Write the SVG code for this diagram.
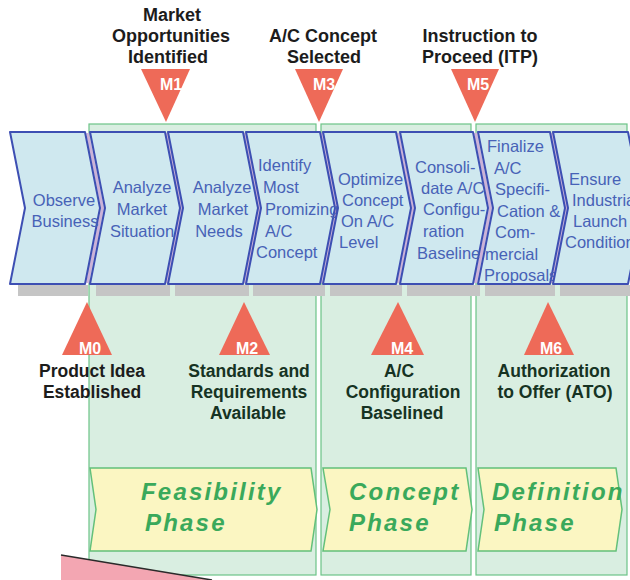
<svg xmlns="http://www.w3.org/2000/svg" width="630" height="580" viewBox="0 0 630 580">
<style>
.panel{fill:#d9eee1;stroke:#6cc487;stroke-width:1.2}
.shadow{fill:#c5c5c5}
.stripe{fill:none;stroke:#cdb2d8;stroke-width:3}
.chev{fill:#cfe8ef;stroke:#3d4fb3;stroke-width:2;stroke-linejoin:round}
.ct{font-family:"Liberation Sans",Arial,sans-serif;font-size:16.5px;fill:#4762b7}
.tri{fill:#ee6a58}
.mt{font-family:"Liberation Sans",Arial,sans-serif;font-size:16px;font-weight:bold;fill:#ffffff;text-anchor:middle}
.lbl{font-family:"Liberation Sans",Arial,sans-serif;font-size:18px;font-weight:bold;fill:#1c1c1c;text-anchor:middle}
.lblg{font-family:"Liberation Sans",Arial,sans-serif;font-size:17.5px;font-weight:bold;fill:#163323;text-anchor:middle}
.phase{fill:#fbf6c2;stroke:#63c07a;stroke-width:1.5}
.pt{font-family:"Liberation Sans",Arial,sans-serif;font-size:24px;font-weight:bold;font-style:italic;fill:#3aa95b;letter-spacing:2.2px}
</style>
<rect width="630" height="580" fill="#ffffff"/>
<g id="panels">
<rect class="panel" x="89" y="124" width="227" height="451"/>
<rect class="panel" x="321" y="124" width="150" height="451"/>
<rect class="panel" x="476" y="124" width="151" height="451"/>
</g>
<g id="pink-shape">
<polygon points="61,555 212,580 61,580" fill="#f3a6b2"/>
<line x1="61" y1="555" x2="212" y2="580" stroke="#2a2a2a" stroke-width="1.5"/>
</g>
<g id="shadows">
<rect class="shadow" x="18" y="285" width="70" height="11"/>
<rect class="shadow" x="96" y="285" width="74" height="11"/>
<rect class="shadow" x="175" y="285" width="74" height="11"/>
<rect class="shadow" x="253" y="285" width="72" height="11"/>
<rect class="shadow" x="330" y="285" width="72" height="11"/>
<rect class="shadow" x="407" y="285" width="73" height="11"/>
<rect class="shadow" x="485" y="285" width="70" height="11"/>
<rect class="shadow" x="560" y="285" width="70" height="11"/>
</g>
<g id="stripes">
<polyline class="stripe" points="87.5,133 102.5,208 87.5,283"/>
<polyline class="stripe" points="166.5,133 181.5,208 166.5,283"/>
<polyline class="stripe" points="244.5,133 259.5,208 244.5,283"/>
<polyline class="stripe" points="321.5,133 336.5,208 321.5,283"/>
<polyline class="stripe" points="398,133 413,208 398,283"/>
<polyline class="stripe" points="475.5,133 490.5,208 475.5,283"/>
<polyline class="stripe" points="551.5,133 566.5,208 551.5,283"/>
</g>
<g id="step-observe">
<path class="chev" d="M10,132 L85,132 L100,208 L85,284 L10,284 L25,208 Z"/>
<text class="ct" x="64" y="206" text-anchor="middle">Observe</text>
<text class="ct" x="65" y="227" text-anchor="middle">Business</text>
</g>
<g id="step-analyze-situation">
<path class="chev" d="M90,132 L165,132 L180,208 L165,284 L90,284 L105,208 Z"/>
<text class="ct" x="142" y="193" text-anchor="middle">Analyze</text>
<text class="ct" x="142" y="215" text-anchor="middle">Market</text>
<text class="ct" x="142" y="237" text-anchor="middle">Situation</text>
</g>
<g id="step-analyze-needs">
<path class="chev" d="M168,132 L243,132 L258,208 L243,284 L168,284 L183,208 Z"/>
<text class="ct" x="222" y="193" text-anchor="middle">Analyze</text>
<text class="ct" x="223" y="215" text-anchor="middle">Market</text>
<text class="ct" x="219" y="237" text-anchor="middle">Needs</text>
</g>
<g id="step-identify">
<path class="chev" d="M246,132 L320,132 L335,208 L320,284 L246,284 L261,208 Z"/>
<text class="ct" x="258" y="171">Identify</text>
<text class="ct" x="263" y="193">Most</text>
<text class="ct" x="265" y="215">Promizing</text>
<text class="ct" x="265" y="237">A/C</text>
<text class="ct" x="256" y="258">Concept</text>
</g>
<g id="step-optimize">
<path class="chev" d="M323,132 L396,132 L411,208 L396,284 L323,284 L338,208 Z"/>
<text class="ct" x="338" y="185">Optimize</text>
<text class="ct" x="342" y="206">Concept</text>
<text class="ct" x="341" y="227">On A/C</text>
<text class="ct" x="339" y="248">Level</text>
</g>
<g id="step-consolidate">
<path class="chev" d="M400,132 L473,132 L488,208 L473,284 L400,284 L415,208 Z"/>
<text class="ct" x="415" y="173">Consoli-</text>
<text class="ct" x="421" y="194">date A/C</text>
<text class="ct" x="423" y="215">Configu-</text>
<text class="ct" x="423" y="237">ration</text>
<text class="ct" x="417" y="259">Baseline</text>
</g>
<g id="step-finalize">
<path class="chev" d="M478,132 L550,132 L565,208 L550,284 L478,284 L493,208 Z"/>
<text class="ct" x="487" y="152">Finalize</text>
<text class="ct" x="494" y="173.5">A/C</text>
<text class="ct" x="495" y="195">Specifi-</text>
<text class="ct" x="497" y="216.5">Cation &amp;</text>
<text class="ct" x="495" y="238">Com-</text>
<text class="ct" x="485" y="259.5">mercial</text>
<text class="ct" x="484" y="281">Proposals</text>
</g>
<g id="step-ensure">
<path class="chev" d="M553,132 L628,132 L643,208 L628,284 L553,284 L568,208 Z"/>
<text class="ct" x="569" y="185">Ensure</text>
<text class="ct" x="572" y="206">Industrial</text>
<text class="ct" x="573" y="227">Launch</text>
<text class="ct" x="565" y="248">Conditions</text>
</g>
<g id="milestone-M1">
<polygon class="tri" points="141,69 190,69 166,122"/>
<text class="mt" x="171" y="90">M1</text>
<text class="lbl" x="172" y="21">Market</text>
<text class="lbl" x="171" y="42">Opportunities</text>
<text class="lbl" x="168" y="63">Identified</text>
</g>
<g id="milestone-M3">
<polygon class="tri" points="295,69 343,69 319,122"/>
<text class="mt" x="324" y="90">M3</text>
<text class="lbl" x="323" y="42">A/C Concept</text>
<text class="lbl" x="324" y="63">Selected</text>
</g>
<g id="milestone-M5">
<polygon class="tri" points="451,69 499,69 475,122"/>
<text class="mt" x="478" y="90">M5</text>
<text class="lbl" x="480" y="42">Instruction to</text>
<text class="lbl" x="480" y="63">Proceed (ITP)</text>
</g>
<g id="milestone-M0">
<polygon class="tri" points="87,302 62,355 112,355"/>
<text class="mt" x="90" y="354">M0</text>
<text class="lbl" x="92" y="377" style="font-size:17.5px">Product Idea</text>
<text class="lbl" x="92" y="398" style="font-size:17.5px">Established</text>
</g>
<g id="milestone-M2">
<polygon class="tri" points="244,302 219,355 270,355"/>
<text class="mt" x="247" y="354">M2</text>
<text class="lblg" x="249" y="377">Standards and</text>
<text class="lblg" x="249" y="398">Requirements</text>
<text class="lblg" x="248" y="419">Available</text>
</g>
<g id="milestone-M4">
<polygon class="tri" points="398,302 371,355 424,355"/>
<text class="mt" x="402" y="354">M4</text>
<text class="lblg" x="399" y="377">A/C</text>
<text class="lblg" x="403" y="398">Configuration</text>
<text class="lblg" x="402" y="419">Baselined</text>
</g>
<g id="milestone-M6">
<polygon class="tri" points="548,302 524,355 574,355"/>
<text class="mt" x="551" y="354">M6</text>
<text class="lblg" x="554" y="377">Authorization</text>
<text class="lblg" x="555" y="398">to Offer (ATO)</text>
</g>
<g id="phase-feasibility">
<path class="phase" d="M90,468 L311,468 L317,509.5 L311,551 L90,551 L96,509.5 Z"/>
<text class="pt" x="141" y="500">Feasibility</text>
<text class="pt" x="145" y="531">Phase</text>
</g>
<g id="phase-concept">
<path class="phase" d="M323,468 L466,468 L472,509.5 L466,551 L323,551 L330,509.5 Z"/>
<text class="pt" x="349" y="500">Concept</text>
<text class="pt" x="349" y="531">Phase</text>
</g>
<g id="phase-definition">
<path class="phase" d="M478,468 L616,468 L622,509.5 L616,551 L478,551 L484,509.5 Z"/>
<text class="pt" x="492" y="500">Definition</text>
<text class="pt" x="494" y="531">Phase</text>
</g>
<g id="connectors"/>
</svg>
